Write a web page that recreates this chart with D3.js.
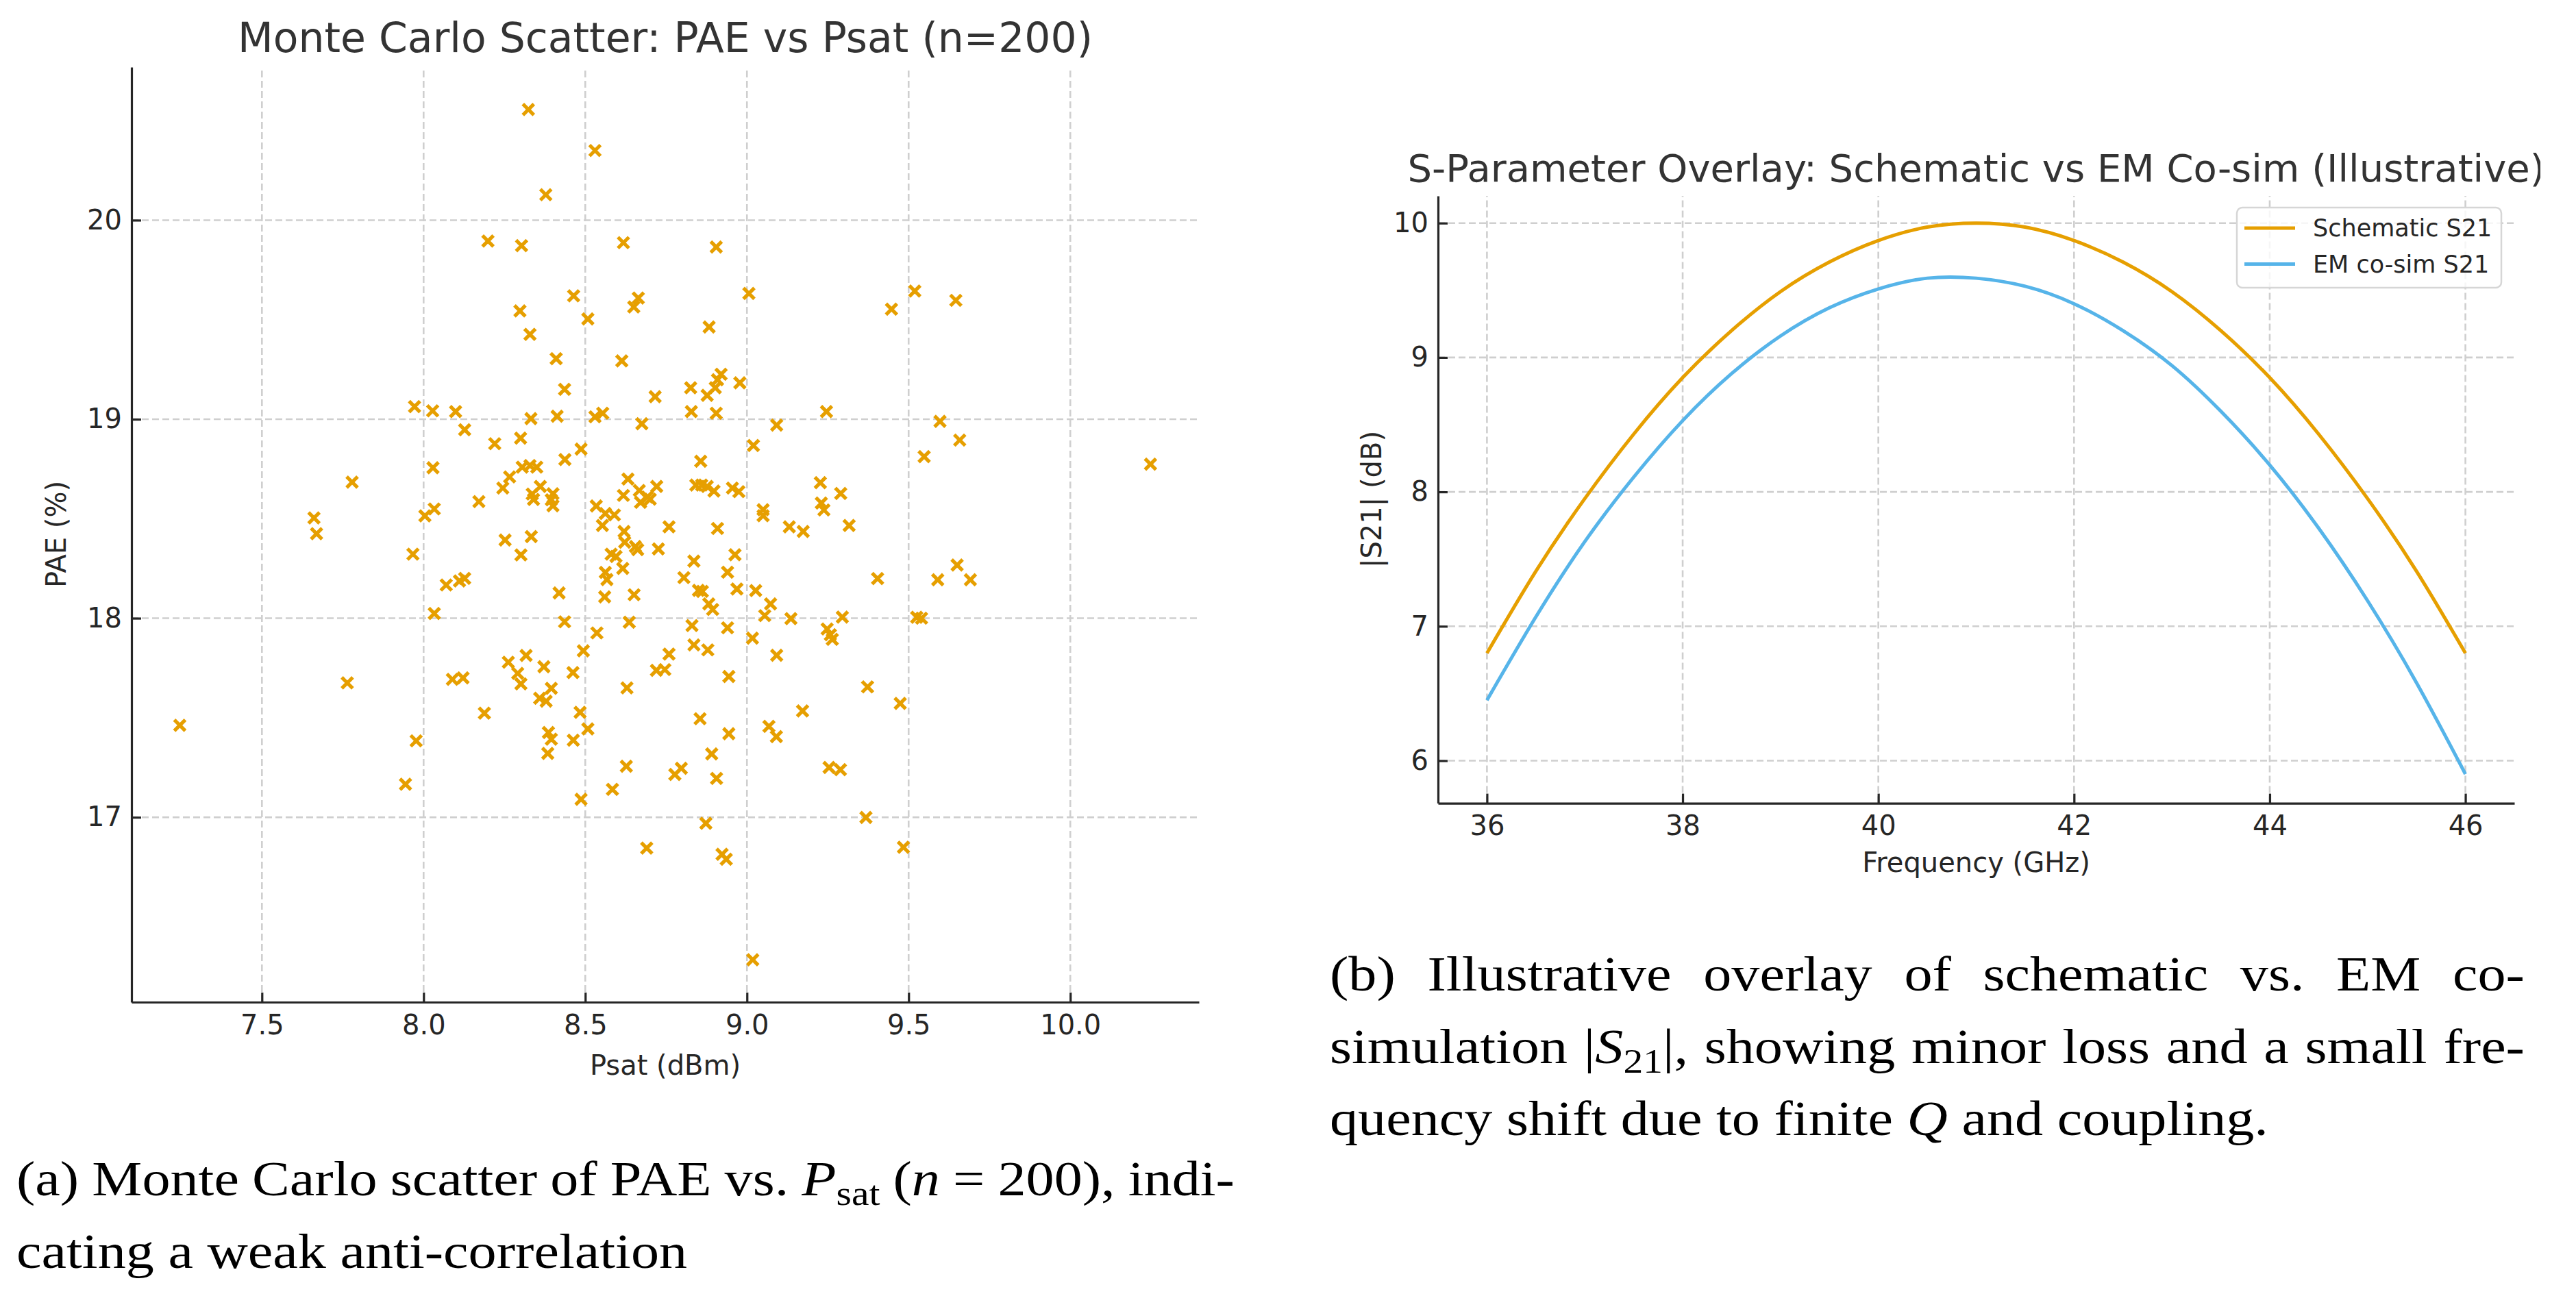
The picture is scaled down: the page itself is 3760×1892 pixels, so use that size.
<!DOCTYPE html>
<html>
<head>
<meta charset="utf-8">
<script src="https://cdn.jsdelivr.net/npm/d3@7"></script>
<style>
  html, body { margin: 0; padding: 0; background: #fff; overflow: hidden; }
</style>
</head>
<body>
<div id="fig"></div>
<script>
/* =========================
   DATA
   ========================= */

// (a) Monte Carlo scatter, one entry per sample (Psat in dBm, PAE in %)
const psat = [
  7.972, 8.028, 7.779, 8.029, 7.661, 7.669, 8.004, 8.033, 7.967, 8.033, 7.764, 7.246, 7.977, 7.944,
  8.324, 8.530, 8.378, 8.199, 8.303, 8.464, 8.298, 8.508, 8.329, 8.410, 8.436, 8.099, 8.127, 8.332,
  8.413, 8.530, 8.554, 8.220, 8.300, 8.437, 8.487, 8.305, 8.329, 8.350, 8.266, 8.245, 8.361, 8.336,
  8.340, 8.400, 8.395, 8.400, 8.171, 8.534, 8.562, 8.590, 8.553,
  8.252, 8.333, 8.301, 8.070, 8.111, 8.127, 8.419, 8.436, 8.580, 8.562, 8.567, 8.560, 8.595, 8.536,
  8.494, 8.317, 8.262, 8.291, 8.301, 8.372, 8.462, 8.089, 8.122, 8.395, 8.359, 8.379, 8.188, 8.484,
  8.508, 8.386, 8.395, 8.463, 8.384, 8.584, 8.487,
  8.618, 8.905, 9.006, 8.664, 8.650, 8.883, 8.613, 8.920, 8.909, 8.902, 8.877, 8.826, 8.978, 8.828,
  8.905, 8.716, 8.675, 9.092, 9.020, 8.857, 8.632, 8.618, 8.667, 8.671, 8.692, 8.701, 8.721, 8.842,
  8.860, 8.877, 8.898, 8.955, 8.975, 9.050, 9.050, 8.620, 8.759, 8.909, 9.131,
  9.519, 9.447, 9.646, 9.246, 9.597, 9.658, 9.548, 10.248, 9.227, 9.290, 9.230, 9.238, 9.316, 9.174,
  8.622, 8.655, 8.662, 8.726, 8.616, 8.836, 8.963, 8.805, 8.940, 8.850, 8.862, 8.969, 9.027, 8.651,
  8.882, 8.894, 9.073, 9.055, 9.136, 9.295, 9.525, 9.540, 9.404, 9.590, 9.650, 9.691, 8.636, 8.830,
  8.940, 9.017, 9.248, 9.258, 9.264, 8.759, 8.836, 8.879, 9.092,
  9.172, 9.373, 9.474, 9.254, 9.289, 9.368, 9.484, 9.068, 9.091, 8.944, 8.944, 8.855, 8.891, 8.906,
  8.873, 8.923, 8.936, 9.018, 8.690, 8.627, 8.777, 8.797, 8.629, 8.720, 8.746
];

const pae = [
  19.063, 19.042, 18.684, 18.756, 18.504, 18.425, 18.514, 18.549, 18.322, 18.024, 17.675, 17.462, 17.384, 17.166,
  20.556, 20.350, 20.128, 19.895, 19.872, 19.620, 19.544, 19.504, 19.426, 19.304, 19.150, 19.038, 18.947, 19.003,
  19.015, 19.012, 19.030, 18.877, 18.905, 18.797, 18.850, 18.759, 18.767, 18.759, 18.710, 18.654, 18.662, 18.624,
  18.597, 18.625, 18.595, 18.565, 18.586, 18.564, 18.526, 18.519, 18.466,
  18.393, 18.410, 18.318, 18.167, 18.187, 18.200, 18.127, 17.982, 18.322, 18.230, 18.194, 18.107, 18.310, 17.926,
  17.836, 17.813, 17.779, 17.723, 17.670, 17.756, 17.727, 17.693, 17.700, 17.648, 17.598, 17.583, 17.523, 17.527,
  17.444, 17.426, 17.392, 17.387, 17.321, 17.140, 17.090,
  19.887, 19.865, 19.632, 19.609, 19.564, 19.463, 19.293, 19.226, 19.198, 19.158, 19.120, 19.158, 19.183, 19.038,
  19.030, 19.113, 18.977, 18.970, 18.868, 18.789, 18.699, 18.617, 18.642, 18.582, 18.609, 18.598, 18.662, 18.669,
  18.669, 18.662, 18.639, 18.654, 18.636, 18.545, 18.515, 18.436, 18.459, 18.451, 18.459,
  19.644, 19.553, 19.597, 19.038, 18.989, 18.895, 18.812, 18.774, 18.681, 18.627, 18.579, 18.544, 18.466, 18.436,
  18.382, 18.360, 18.345, 18.348, 18.250, 18.287, 18.319, 18.204, 18.231, 18.140, 18.135, 18.147, 18.139, 18.118,
  18.072, 18.044, 18.072, 18.013, 17.998, 18.006, 18.005, 18.000, 18.199, 18.193, 18.267, 18.193, 17.980, 17.963,
  17.952, 17.900, 17.946, 17.917, 17.894, 17.820, 17.866, 17.841, 17.814,
  17.534, 17.655, 17.572, 17.250, 17.239, 16.999, 16.849, 17.457, 17.405, 17.707, 17.420, 17.495, 17.318, 17.195,
  16.970, 16.814, 16.789, 16.284, 16.845, 17.256, 17.215, 17.246, 17.650, 17.738, 17.742
];

const psatTicks = [7.5, 8.0, 8.5, 9.0, 9.5, 10.0];
const paeTicks = [17, 18, 19, 20];

// (b) S-parameter overlay
const freqGHz = [36, 36.5, 37, 37.5, 38, 38.5, 39, 39.5, 40, 40.5, 41, 41.5, 42, 42.5, 43, 43.5, 44, 44.5, 45, 45.5, 46];
const schematicS21 = [6.80, 7.41, 7.95, 8.43, 8.85, 9.20, 9.49, 9.71, 9.87, 9.97, 10.00, 9.97, 9.87, 9.71, 9.49, 9.20, 8.85, 8.43, 7.95, 7.41, 6.80];
const emS21 = [6.45, 7.07, 7.63, 8.11, 8.53, 8.88, 9.16, 9.37, 9.51, 9.59, 9.59, 9.53, 9.40, 9.20, 8.94, 8.60, 8.20, 7.73, 7.19, 6.58, 5.90];
const freqTicks = [36, 38, 40, 42, 44, 46];
const s21Ticks = [6, 7, 8, 9, 10];
const seriesNames = ["Schematic S21", "EM co-sim S21"];

/* =========================
   CONFIGURATION
   ========================= */

const WIDTH = 3760;
const HEIGHT = 1892;
const FONT = "'DejaVu Sans', Verdana, sans-serif";
const SERIF = "'Liberation Serif', 'Times New Roman', serif";
const TEXT_COLOR = "#262626";
const TITLE_COLOR = "#333333";
const ORANGE = "#E69F00";
const BLUE = "#56B4E9";
const GRID_COLOR = "#cfcfcf";
const TICK_FONT = 40;
const CAPTION_SIZE = 72;

const svg = d3.select("#fig")
  .append("svg")
  .attr("width", WIDTH)
  .attr("height", HEIGHT)
  .style("display", "block");

svg.append("rect").attr("width", WIDTH).attr("height", HEIGHT).attr("fill", "#fff");

/* =========================
   SHARED HELPERS
   ========================= */

function styleAxis(g) {
  g.select(".domain").attr("stroke", TEXT_COLOR).attr("stroke-width", 3.2);
  g.selectAll(".tick line").attr("stroke", TEXT_COLOR).attr("stroke-width", 3.2);
  g.selectAll(".tick text")
    .attr("fill", TEXT_COLOR)
    .attr("font-family", FONT)
    .attr("font-size", TICK_FONT);
}

function drawGrid(g, x, y, xTicks, yTicks) {
  const [x0, x1] = x.range();
  const [y0, y1] = y.range();
  g.selectAll(".vgrid")
    .data(xTicks)
    .enter()
    .append("line")
    .attr("x1", d => x(d)).attr("x2", d => x(d))
    .attr("y1", y0).attr("y2", y1);
  g.selectAll(".hgrid")
    .data(yTicks)
    .enter()
    .append("line")
    .attr("x1", x0).attr("x2", x1)
    .attr("y1", d => y(d)).attr("y2", d => y(d));
  g.selectAll("line")
    .attr("stroke", GRID_COLOR)
    .attr("stroke-width", 2.6)
    .attr("stroke-dasharray", "10 5");
}

function label(parent, text, x, y, size, rotate, color) {
  return parent.append("text")
    .attr("transform", `translate(${x},${y})` + (rotate ? ` rotate(${rotate})` : ""))
    .attr("text-anchor", "middle")
    .attr("font-family", FONT)
    .attr("font-size", size)
    .attr("fill", color || TEXT_COLOR)
    .text(text);
}

/* =========================
   (a) SCATTER
   ========================= */

const xA = d3.scaleLinear().domain([7.0968, 10.3978]).range([192, 1750]);
const yA = d3.scaleLinear().domain([16.071, 20.769]).range([1463, 98]);

drawGrid(svg.append("g"), xA, yA, psatTicks, paeTicks);

const scatter = svg.append("g");
scatter.selectAll("path")
  .data(d3.range(psat.length))
  .enter()
  .append("path")
  .attr("transform", i => `translate(${xA(psat[i])},${yA(pae[i])})`)
  .attr("d", "M-8,-8L8,8M-8,8L8,-8")
  .attr("stroke", ORANGE)
  .attr("stroke-width", 5.2)
  .attr("fill", "none");

svg.append("g")
  .attr("transform", "translate(0,1463)")
  .call(d3.axisBottom(xA).tickValues(psatTicks).tickFormat(d3.format(".1f"))
    .tickSizeInner(-14).tickSizeOuter(0).tickPadding(19))
  .call(styleAxis);

svg.append("g")
  .attr("transform", "translate(192,0)")
  .call(d3.axisLeft(yA).tickValues(paeTicks).tickFormat(d3.format("d"))
    .tickSizeInner(-14).tickSizeOuter(0).tickPadding(14))
  .call(styleAxis);

label(svg, "Monte Carlo Scatter: PAE vs Psat (n=200)", 971, 76, 60, 0, TITLE_COLOR);
label(svg, "Psat (dBm)", 971, 1569, 40);
label(svg, "PAE (%)", 96, 780, 40, -90);

/* =========================
   (b) S-PARAMETER OVERLAY
   ========================= */

svg.append("clipPath").attr("id", "clipB")
  .append("rect").attr("x", 1900).attr("y", 0).attr("width", 1808).attr("height", 1340);

const gB = svg.append("g").attr("clip-path", "url(#clipB)");

const xB = d3.scaleLinear().domain([35.5, 46.5]).range([2099, 3670]);
const yB = d3.scaleLinear().domain([5.6834, 10.2023]).range([1172.6, 286]);

drawGrid(gB.append("g"), xB, yB, freqTicks, s21Ticks);

const line = d3.line()
  .x((d, i) => xB(freqGHz[i]))
  .y(d => yB(d))
  .curve(d3.curveNatural);

gB.selectAll(".curve")
  .data([schematicS21, emS21])
  .enter()
  .append("path")
  .attr("d", line)
  .attr("fill", "none")
  .attr("stroke", (d, i) => [ORANGE, BLUE][i])
  .attr("stroke-width", 5);

gB.append("g")
  .attr("transform", "translate(0,1172.6)")
  .call(d3.axisBottom(xB).tickValues(freqTicks).tickFormat(d3.format("d"))
    .tickSizeInner(-14).tickSizeOuter(0).tickPadding(18))
  .call(styleAxis);

gB.append("g")
  .attr("transform", "translate(2099,0)")
  .call(d3.axisLeft(yB).tickValues(s21Ticks).tickFormat(d3.format("d"))
    .tickSizeInner(-14).tickSizeOuter(0).tickPadding(14))
  .call(styleAxis);

// titre (coupé à droite comme dans la figure d'origine)
label(gB, "S-Parameter Overlay: Schematic vs EM Co-sim (Illustrative)", 2884.5, 265, 56, 0, TITLE_COLOR);
label(svg, "Frequency (GHz)", 2884.5, 1273, 40);
label(svg, "|S21| (dB)", 2016, 729, 40, -90);

// Légende
const legend = gB.append("g");
legend.append("rect")
  .attr("x", 3265).attr("y", 303).attr("width", 386).attr("height", 117)
  .attr("rx", 8)
  .attr("fill", "#fff").attr("fill-opacity", 0.8)
  .attr("stroke", "#d6d6d6").attr("stroke-width", 2.5);

const legendItems = legend.selectAll(".item")
  .data(seriesNames)
  .enter()
  .append("g")
  .attr("transform", (d, i) => `translate(0,${333 + i * 52.6})`);

legendItems.append("line")
  .attr("x1", 3276).attr("x2", 3350)
  .attr("stroke", (d, i) => [ORANGE, BLUE][i])
  .attr("stroke-width", 5);

legendItems.append("text")
  .attr("x", 3376).attr("dy", "0.35em")
  .attr("font-family", FONT)
  .attr("font-size", 35)
  .attr("fill", TEXT_COLOR)
  .text(d => d);

/* =========================
   CAPTIONS
   ========================= */

// mots : chaîne simple, ou liste de [texte, style] ("i" italique, "sub" indice)
const captionLines = [
  { x0: 24, x1: 1802, y: 1745, justify: true,
    words: ["(a)", "Monte", "Carlo", "scatter", "of", "PAE", "vs.", [["P", "i"], ["sat", "sub"]],
            [["(", ""], ["n", "i"]], "=", "200),", "indi-"] },
  { x0: 24, y: 1851, justify: false, words: "cating a weak anti-correlation".split(" ") },
  { x0: 1941, x1: 3685, y: 1446, justify: true,
    words: "(b) Illustrative overlay of schematic vs. EM co-".split(" ") },
  { x0: 1941, x1: 3685, y: 1552, justify: true,
    words: ["simulation", [["|", ""], ["S", "i"], ["21", "sub"], ["|,", ""]], "showing", "minor", "loss",
            "and", "a", "small", "fre-"] },
  { x0: 1941, y: 1657, justify: false,
    words: ["quency", "shift", "due", "to", "finite", [["Q", "i"]], "and", "coupling."] }
];

const capG = svg.append("g")
  .attr("font-family", SERIF)
  .attr("font-size", CAPTION_SIZE)
  .attr("fill", "#000");

function addWord(word) {
  const runs = typeof word === "string" ? [[word, ""]] : word;
  const t = capG.append("text");
  let shifted = false;
  runs.forEach(([txt, st]) => {
    const ts = t.append("tspan").text(txt);
    if (st === "i") ts.attr("font-style", "italic");
    if (st === "sub") {
      ts.attr("font-size", CAPTION_SIZE * 0.7).attr("dy", CAPTION_SIZE * 0.2);
      shifted = true;
    } else if (shifted) {
      ts.attr("dy", -CAPTION_SIZE * 0.2);
      shifted = false;
    }
  });
  return t;
}

function measure(str) {
  const t = capG.append("text").text(str);
  const w = t.node().getComputedTextLength();
  t.remove();
  return w;
}

const spaceW = measure("n n") - measure("nn");

captionLines.forEach(line => {
  line.nodes = line.words.map(addWord);
  line.widths = line.nodes.map(n => n.node().getComputedTextLength());
  line.natural = d3.sum(line.widths) + spaceW * (line.widths.length - 1);
});

// largeur cible des lignes non justifiées, lue sur l'original (Palatino plus large que Times)
const kA = 977 / captionLines[1].natural;
const kB = 1373 / captionLines[4].natural;
const kScale = (kA + kB) / 2;

captionLines.forEach(line => {
  const n = line.nodes.length;
  const gap = line.justify
    ? (line.x1 - line.x0 - kScale * d3.sum(line.widths)) / (n - 1)
    : kScale * spaceW;
  let x = line.x0;
  line.nodes.forEach((node, i) => {
    node.attr("transform", `translate(${x},${line.y}) scale(${kScale},1)`);
    x += kScale * line.widths[i] + gap;
  });
});
</script>
</body>
</html>
